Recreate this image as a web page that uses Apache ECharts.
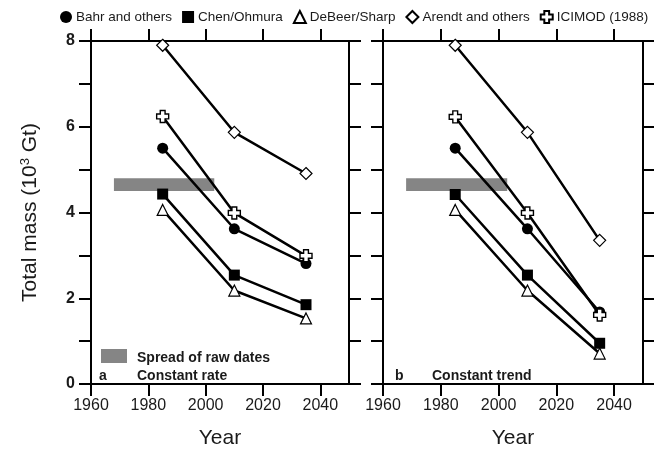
<!DOCTYPE html>
<html>
<head>
<meta charset="utf-8">
<script src="https://cdn.jsdelivr.net/npm/echarts@6/dist/echarts.min.js"></script>
<style>
html,body{margin:0;padding:0;background:#fff;}
#chart{width:654px;height:454px;}
</style>
</head>
<body>
<div id="chart"></div>
<script>
// ---- data ----
const years = [1985, 2010, 2035];
const seriesNames = ['Bahr and others', 'Chen/Ohmura', 'DeBeer/Sharp', 'Arendt and others', 'ICIMOD (1988)'];
// panel a: constant rate
const bahrA = [5.50, 3.62, 2.81];
const chenA = [4.43, 2.54, 1.85];
const debeerA = [4.06, 2.18, 1.53];
const arendtA = [7.90, 5.87, 4.91];
const icimodA = [6.24, 3.99, 2.99];
// panel b: constant trend
const bahrB = [5.50, 3.62, 1.68];
const chenB = [4.42, 2.54, 0.95];
const debeerB = [4.06, 2.18, 0.71];
const arendtB = [7.90, 5.87, 3.35];
const icimodB = [6.23, 3.99, 1.61];
// spread of raw dates (years, mass)
const spreadYears = [1968, 2003];
const spreadMass = [4.50, 4.80];
// ticks
const xTicks = [1960, 1980, 2000, 2020, 2040];
const yTicks = [0, 1, 2, 3, 4, 5, 6, 7, 8];
const yLabels = [0, 2, 4, 6, 8];
const panelLetters = ['a', 'b'];
const panelTitles = ['Constant rate', 'Constant trend'];
const spreadLabel = 'Spread of raw dates';

const FONT = 'Liberation Sans, Arial, sans-serif';
const plusPath = 'path://M3,0 H7 V3 H10 V7 H7 V10 H3 V7 H0 V3 H3 Z';
const styles = [
  {symbol: 'circle', size: 11, color: '#000', border: '#000', bw: 0},
  {symbol: 'rect', size: 11, color: '#000', border: '#000', bw: 0},
  {symbol: 'triangle', size: 11, color: '#fff', border: '#000', bw: 1.2},
  {symbol: 'diamond', size: 12, color: '#fff', border: '#000', bw: 1.2},
  {symbol: plusPath, size: 12, color: '#fff', border: '#000', bw: 1.4}
];
const panelData = [
  [bahrA, chenA, debeerA, arendtA, icimodA],
  [bahrB, chenB, debeerB, arendtB, icimodB]
];

const grids = [
  {left: 91, top: 41, width: 258, height: 347},
  {left: 383, top: 41, width: 260, height: 347}
];

const lineCol = '#000';
const txtCol = '#1a1a1a';
function xAxes(gi) {
  return [
    {
      gridIndex: gi, type: 'value', min: 1960, max: 2050, position: 'bottom',
      axisLine: {show: true, onZero: false, lineStyle: {color: lineCol, width: 2}},
      axisTick: {show: true, inside: false, length: 12, customValues: xTicks, lineStyle: {color: lineCol, width: 2}},
      axisLabel: {customValues: xTicks, formatter: v => String(v), fontSize: 16, color: txtCol, margin: 14, fontFamily: FONT},
      splitLine: {show: false},
      name: 'Year', nameLocation: 'middle', nameGap: 44,
      nameTextStyle: {fontSize: 21, color: txtCol, fontFamily: FONT}
    },
    {
      gridIndex: gi, type: 'value', min: 1960, max: 2050, position: 'top',
      axisLine: {show: true, onZero: false, lineStyle: {color: lineCol, width: 2}},
      axisTick: {show: true, inside: false, length: 12, customValues: xTicks, lineStyle: {color: lineCol, width: 2}},
      axisLabel: {show: false},
      splitLine: {show: false}
    }
  ];
}
function yAxes(gi) {
  const left = {
    gridIndex: gi, type: 'value', min: 0, max: 8, position: 'left',
    axisLine: {show: true, onZero: false, lineStyle: {color: lineCol, width: 2}},
    axisTick: {show: true, inside: false, length: 12, customValues: yTicks, lineStyle: {color: lineCol, width: 2}},
    axisLabel: {show: gi === 0, customValues: yLabels, fontSize: 16, fontWeight: 'bold', color: txtCol, margin: 16, fontFamily: FONT},
    splitLine: {show: false}
  };
  if (gi === 0) {
    left.name = 'Total mass (10{s|3} Gt)';
    left.nameLocation = 'middle';
    left.nameGap = 50;
    left.nameTextStyle = {fontSize: 21, color: txtCol, fontFamily: FONT,
      rich: {s: {fontSize: 13, color: txtCol, fontFamily: FONT, verticalAlign: 'top', lineHeight: 22}}};
  }
  const right = {
    gridIndex: gi, type: 'value', min: 0, max: 8, position: 'right',
    axisLine: {show: true, onZero: false, lineStyle: {color: lineCol, width: 2}},
    axisTick: {show: true, inside: false, length: 12, customValues: yTicks, lineStyle: {color: lineCol, width: 2}},
    axisLabel: {show: false},
    splitLine: {show: false}
  };
  return [left, right];
}

const series = [];
for (let p = 0; p < 2; p++) {
  series.push({
    name: '_spread' + p, type: 'line', xAxisIndex: p * 2, yAxisIndex: p * 2, data: [], z: 1,
    silent: true,
    markArea: {
      silent: true,
      itemStyle: {color: '#858585', opacity: 1},
      data: [[{coord: [spreadYears[0], spreadMass[0]]}, {coord: [spreadYears[1], spreadMass[1]]}]]
    }
  });
  for (let s = 0; s < 5; s++) {
    const st = styles[s];
    series.push({
      name: seriesNames[s], type: 'line', xAxisIndex: p * 2, yAxisIndex: p * 2, z: 3,
      data: years.map((y, i) => [y, panelData[p][s][i]]),
      symbol: st.symbol, symbolSize: st.size, showAllSymbol: true,
      lineStyle: {color: '#000', width: 2.5},
      itemStyle: {color: st.color, borderColor: st.border, borderWidth: st.bw, opacity: 1},
      emphasis: {disabled: true},
      animation: false
    });
  }
}

const graphic = [
  {type: 'rect', left: 101, top: 349, shape: {width: 26, height: 14}, style: {fill: '#858585'}},
  {type: 'text', left: 137, top: 351, style: {text: spreadLabel, font: 'bold 14px ' + FONT, fill: txtCol}},
  {type: 'text', left: 99, top: 369, style: {text: panelLetters[0], font: 'bold 14px ' + FONT, fill: txtCol}},
  {type: 'text', left: 137, top: 369, style: {text: panelTitles[0], font: 'bold 14px ' + FONT, fill: txtCol}},
  {type: 'text', left: 395, top: 369, style: {text: panelLetters[1], font: 'bold 14px ' + FONT, fill: txtCol}},
  {type: 'text', left: 432, top: 369, style: {text: panelTitles[1], font: 'bold 14px ' + FONT, fill: txtCol}}
];

const chart = echarts.init(document.getElementById('chart'), null, {renderer: 'canvas'});
chart.setOption({
  backgroundColor: '#fff',
  animation: false,
  grid: grids,
  xAxis: [...xAxes(0), ...xAxes(1)],
  yAxis: [...yAxes(0), ...yAxes(1)],
  legend: {
    data: seriesNames.map((n, i) => ({name: n, icon: styles[i].symbol})),
    left: 55, top: 5, width: 640, itemWidth: 12, itemHeight: 12, itemGap: 10,
    textStyle: {fontSize: 13.5, color: txtCol, fontFamily: FONT, padding: [0, 0, 0, -1]},
    selectedMode: false
  },
  graphic: graphic,
  series: series
});
</script>
</body>
</html>
